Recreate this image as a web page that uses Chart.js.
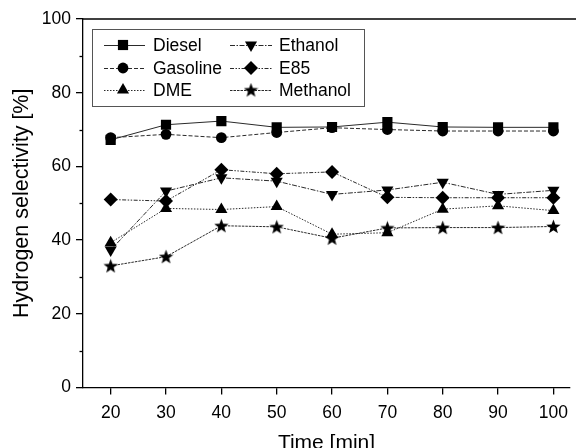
<!DOCTYPE html>
<html>
<head>
<meta charset="utf-8">
<script src="https://cdn.jsdelivr.net/npm/chart.js@4/dist/chart.umd.min.js"></script>
<style>
  html, body { margin: 0; padding: 0; background: #fff; }
  #wrap { width: 576px; height: 448px; }
</style>
</head>
<body>
<div id="wrap"><canvas id="chart" width="576" height="448"></canvas></div>
<script>
const times = [20, 30, 40, 50, 60, 70, 80, 90, 100];
const diesel = [67.2, 71.3, 72.3, 70.6, 70.7, 72.0, 70.7, 70.6, 70.6];
const gasoline = [67.8, 68.7, 67.8, 69.2, 70.5, 70.0, 69.6, 69.6, 69.6];
const dme = [39.3, 48.6, 48.3, 49.1, 41.6, 42.0, 48.4, 49.3, 48.0];
const ethanol = [37.3, 53.3, 56.9, 56.0, 52.4, 53.6, 55.7, 52.4, 53.5];
const e85 = [51.0, 50.6, 59.1, 58.0, 58.5, 51.6, 51.5, 51.5, 51.5];
const methanol = [33.0, 35.5, 43.9, 43.6, 40.5, 43.3, 43.4, 43.4, 43.7];
const yMajor = [0, 20, 40, 60, 80, 100];
const yMinor = [10, 30, 50, 70, 90];

const FONT = '"Liberation Sans", Arial, sans-serif';

// filled star marker (Chart.js 'star' is only an asterisk)
function makeStar(size) {
    const c = document.createElement('canvas');
    c.width = size; c.height = size;
    const g = c.getContext('2d');
    const cx = size / 2, cy = size / 2 + 0.6, R = size / 2, r = R * 0.42;
    g.beginPath();
    for (let i = 0; i < 10; i++) {
        const a = -Math.PI / 2 + i * Math.PI / 5;
        const rr = i % 2 === 0 ? R : r;
        g.lineTo(cx + rr * Math.cos(a), cy + rr * Math.sin(a));
    }
    g.closePath();
    g.fillStyle = '#000';
    g.fill();
    return c;
}
const star = makeStar(15);

function series(label, values, style, dash, extra) {
    return Object.assign({
        label: label,
        data: values.map((v, i) => ({ x: times[i], y: v })),
        borderColor: '#2a2a2a',
        borderWidth: 1,
        borderDash: dash,
        backgroundColor: '#000',
        pointBackgroundColor: '#000',
        pointBorderColor: '#000',
        pointBorderWidth: 0,
        pointStyle: style,
        pointRadius: 7,
        tension: 0,
    }, extra || {});
}

const datasets = [
    series('Diesel', diesel, 'rect', [], { pointRadius: 7.2 }),
    series('Gasoline', gasoline, 'circle', [4, 2], { pointRadius: 5.4 }),
    series('DME', dme, 'triangle', [1.5, 1.5], { pointRadius: 7 }),
    series('Ethanol', ethanol, 'triangle', [5, 1.5, 1.5, 1.5], { pointRadius: 7, pointRotation: 180 }),
    series('E85', e85, 'rectRot', [4, 1.5, 1.5, 1.5, 1.5, 1.5], { pointRadius: 7 }),
    series('Methanol', methanol, star, [2.5, 1], {}),
];

const extras = {
    id: 'extras',
    afterDraw(chart) {
        const ctx = chart.ctx;
        const area = chart.chartArea;
        const ys = chart.scales.y;
        ctx.save();
        // top frame line
        ctx.strokeStyle = '#000';
        ctx.lineWidth = 1.3;
        ctx.beginPath();
        ctx.moveTo(area.left, area.top);
        ctx.lineTo(chart.width, area.top);
        ctx.stroke();
        // minor y ticks
        yMinor.forEach(v => {
            const py = Math.round(ys.getPixelForValue(v)) + 0.5;
            ctx.beginPath();
            ctx.moveTo(area.left - 3.5, py);
            ctx.lineTo(area.left, py);
            ctx.stroke();
        });

        // legend box
        const bx = area.left + 9, by = area.top + 10, bw = 272, bh = 77;
        ctx.strokeStyle = '#555';
        ctx.lineWidth = 1;
        ctx.strokeRect(bx + 0.5, by + 0.5, bw, bh);
        const rows = [by + 16, by + 39, by + 61];
        const cols = [{ l0: bx + 12, l1: bx + 53, m: bx + 31, t: bx + 61 },
                      { l0: bx + 138, l1: bx + 180, m: bx + 159, t: bx + 187 }];
        ctx.font = '17.5px ' + FONT;
        ctx.textBaseline = 'middle';
        ctx.textAlign = 'left';
        chart.data.datasets.forEach((ds, i) => {
            const c = cols[Math.floor(i / 3)];
            const y = rows[i % 3];
            ctx.strokeStyle = ds.borderColor;
            ctx.lineWidth = 1;
            ctx.setLineDash(ds.borderDash);
            ctx.beginPath();
            ctx.moveTo(c.l0, y + 0.5);
            ctx.lineTo(c.l1, y + 0.5);
            ctx.stroke();
            ctx.setLineDash([]);
            ctx.fillStyle = '#000';
            ctx.strokeStyle = '#000';
            Chart.helpers.drawPoint(ctx, {
                pointStyle: ds.pointStyle,
                radius: ds.pointRadius,
                rotation: ds.pointRotation || 0,
                borderWidth: 0,
            }, c.m, y);
            ctx.fillStyle = '#000';
            ctx.fillText(ds.label, c.t, y + 1);
        });
        ctx.restore();
    }
};

new Chart(document.getElementById('chart'), {
    type: 'line',
    data: { datasets: datasets },
    options: {
        responsive: false,
        animation: false,
        layout: { autoPadding: false, padding: { top: 19, right: 0, left: 0, bottom: 0 } },
        plugins: { legend: { display: false }, tooltip: { enabled: false } },
        scales: {
            x: {
                type: 'linear',
                min: 15,
                max: 103,
                afterBuildTicks: (scale) => { scale.ticks = times.map(v => ({ value: v })); },
                afterFit: (scale) => { scale.height = 60.5; },
                border: { display: true, color: '#000', width: 1.3 },
                grid: { drawOnChartArea: false, drawTicks: true, tickLength: 7, tickColor: '#000', lineWidth: 1.3 },
                ticks: { color: '#000', font: { family: FONT, size: 17.5 }, padding: 8, maxRotation: 0, autoSkip: false },
                title: { display: true, text: 'Time [min]', color: '#000', font: { family: FONT, size: 21 }, padding: { top: 0, bottom: -8 } },
            },
            y: {
                min: 0,
                max: 100,
                afterBuildTicks: (scale) => { scale.ticks = yMajor.map(v => ({ value: v })); },
                afterFit: (scale) => { scale.width = 83; },
                border: { display: true, color: '#000', width: 1.3 },
                grid: { drawOnChartArea: false, drawTicks: true, tickLength: 7, tickColor: '#000', lineWidth: 1.3 },
                ticks: { color: '#000', font: { family: FONT, size: 17.5 }, padding: 5 },
                title: { display: true, text: 'Hydrogen selectivity [%]', color: '#000', font: { family: FONT, size: 21.5 }, padding: { top: 9, bottom: 0 } },
            },
        },
    },
    plugins: [extras],
});
</script>
</body>
</html>
